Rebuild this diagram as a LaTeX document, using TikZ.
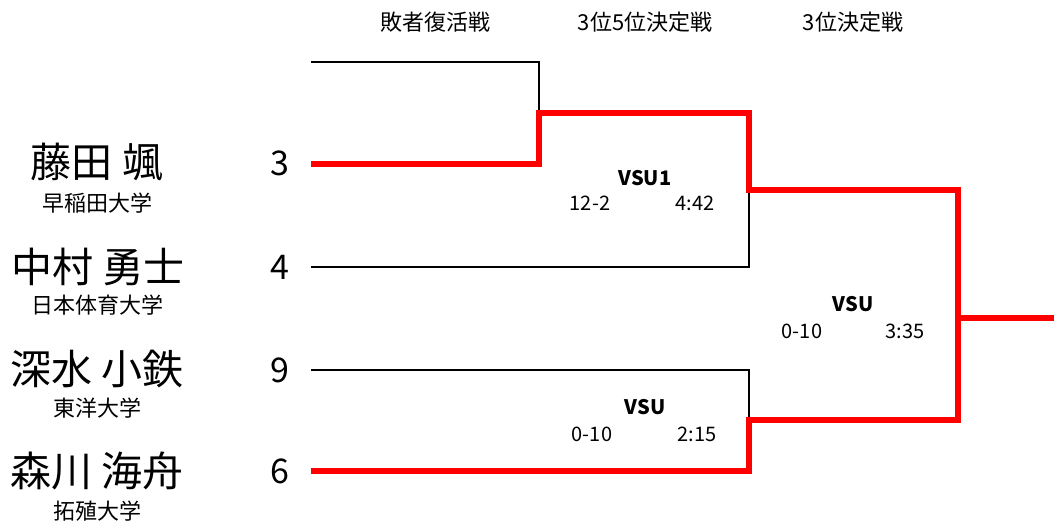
\documentclass[tikz,border=0pt]{standalone}
\usepackage{fontspec}
\setmainfont{Noto Sans CJK JP}
\usetikzlibrary{positioning}

\begin{document}
\begin{tikzpicture}[x=1pt,y=-1pt,
    player/.style={font=\fontsize{41}{41}\selectfont},
    school/.style={font=\fontsize{22}{22}\selectfont},
    seed/.style={font=\fontsize{34}{34}\selectfont},
    round/.style={font=\fontsize{22}{22}\selectfont},
    bout/.style={font=\bfseries\fontsize{20}{20}\selectfont},
    score/.style={font=\fontsize{20}{20}\selectfont},
    lose/.style={black,line width=1.6pt},
    win/.style={red,line width=6pt,line join=miter}]
  \useasboundingbox (0,0) rectangle (1054,522);
  % round headings
  \node[round] (r1) at (435,22) {敗者復活戦};
  \node[round] (r2) at (645,22) {3位5位決定戦};
  \node[round] (r3) at (853,22) {3位決定戦};
  % players
  \node[player] (n1) at (97,162) {藤田 颯};
  \node[school] (s1) at (97,203) {早稲田大学};
  \node[player] (n2) at (98,267) {中村 勇士};
  \node[school] (s2) at (97,305) {日本体育大学};
  \node[player] (n3) at (97,369) {深水 小鉄};
  \node[school] (s3) at (97,408) {東洋大学};
  \node[player] (n4) at (97,471) {森川 海舟};
  \node[school] (s4) at (97,511) {拓殖大学};
  \node[seed] (k1) at (280,163) {3};
  \node[seed] (k2) at (280,267) {4};
  \node[seed] (k3) at (280,370) {9};
  \node[seed] (k4) at (280,471) {6};
  % bracket points
  \coordinate (a0) at (311,62);
  \coordinate (a1) at (311,164);
  \coordinate (a2) at (311,267);
  \coordinate (a3) at (311,370);
  \coordinate (a4) at (311,471);
  \coordinate (m1) at (539,113);
  \coordinate (m2) at (749,190);
  \coordinate (m3) at (749,420);
  \coordinate (f) at (958,318);
  \coordinate (out) at (1054,318);
  % losing lines
  \draw[lose] (a0) -| (m1);
  \draw[lose] (a2) -| (m2);
  \draw[lose] (a3) -| (m3);
  \draw[lose] (m2) -| (f);
  % winning lines
  \draw[win] (a1) -| (m1) -| (m2) -| (f) -- (out);
  \draw[win] (a4) -| (m3) -| (f);
  % results
  \node[bout] (b1) at (645,178) {VSU1};
  \node[score] (c1) at (590,203) {12-2};
  \node[score] (t1) at (695,203) {4:42};
  \node[bout] (b2) at (853,304) {VSU};
  \node[score] (c2) at (802,331) {0-10};
  \node[score] (t2) at (905,331) {3:35};
  \node[bout] (b3) at (645,407) {VSU};
  \node[score] (c3) at (592,434) {0-10};
  \node[score] (t3) at (697,434) {2:15};
\end{tikzpicture}
\end{document}
